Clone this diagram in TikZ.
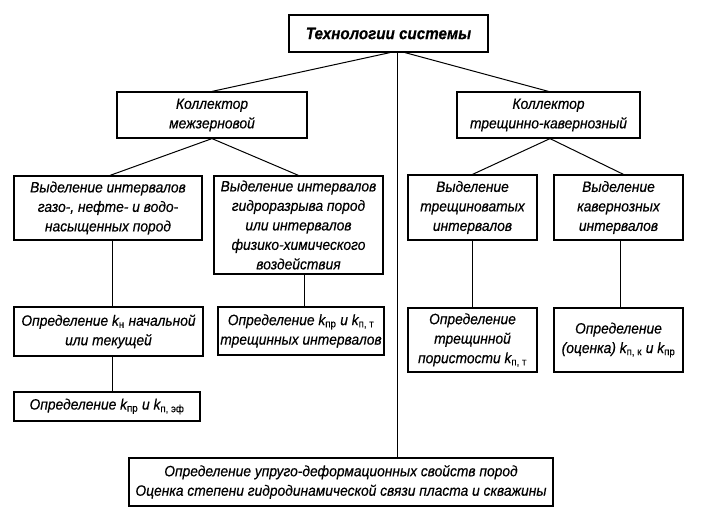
\documentclass[tikz,border=0pt]{standalone}
\usepackage{fontspec}
\setmainfont[FakeStretch=0.92,FakeBold=0.4]{Liberation Sans}
\newcommand{\kidx}[1]{\textit{k}\textsubscript{\upshape #1}}

\begin{document}
\begin{tikzpicture}[x=1pt,y=-1pt,
                    blok/.style={draw,line width=1.2pt,align=center,inner sep=0pt,
                                 font=\fontsize{15}{19.5}\selectfont\itshape},
                    svyaz/.style={line width=1pt}]
                    \useasboundingbox (0,0) rectangle (701,514);

                    \node[blok,minimum width=199pt,minimum height=37pt,
                          font=\fontsize{16.5}{19}\selectfont\bfseries\itshape] (tech) at (388.5,33.5) {Технологии системы};

                    \node[blok,minimum width=190pt,minimum height=46pt] (kmezh) at (212,115) {Коллектор\\межзерновой};
                    \node[blok,minimum width=183pt,minimum height=46pt] (ktrk) at (548.5,115) {Коллектор\\трещинно-кавернозный};

                    \node[blok,minimum width=188pt,minimum height=64pt] (vnas) at (108,208) {Выделение интервалов\\газо-, нефте- и водо-\\насыщенных пород};
                    \node[blok,minimum width=169pt,minimum height=98pt] (vgrp) at (298.5,225) {Выделение интервалов\\гидроразрыва пород\\или интервалов\\физико-химического\\воздействия};
                    \node[blok,minimum width=129pt,minimum height=65pt] (vtr) at (472.5,207.5) {Выделение\\трещиноватых\\интервалов};
                    \node[blok,minimum width=129pt,minimum height=65pt] (vkav) at (618.5,207.5) {Выделение\\кавернозных\\интервалов};

                    \node[blok,minimum width=189pt,minimum height=49pt] (okn) at (108.5,331.5) {Определение \kidx{н} начальной\\или текущей};
                    \node[blok,minimum width=166pt,minimum height=48pt] (okpt) at (301,331) {Определение \kidx{пр} и \kidx{п, т}\\трещинных интервалов};
                    \node[blok,minimum width=129pt,minimum height=64pt] (opor) at (472.5,340) {Определение\\трещинной\\пористости \kidx{п, т}};
                    \node[blok,minimum width=129pt,minimum height=64pt] (ooc) at (618.5,340) {Определение\\(оценка) \kidx{п, к} и \kidx{пр}};

                    \node[blok,minimum width=186pt,minimum height=29pt] (okef) at (107,406.5) {Определение \kidx{пр} и \kidx{п, эф}};

                    \node[blok,minimum width=424pt,minimum height=48pt] (oupr) at (341,482) {Определение упруго-деформационных свойств пород\\Оценка степени гидродинамической связи пласта и скважины};

                    \draw[svyaz] ([xshift=1.5pt]tech.south) -- (kmezh.north);
                    \draw[svyaz] ([xshift=16.5pt]tech.south) -- (ktrk.north);
                    \draw[svyaz] ([xshift=8.5pt]tech.south) -- ([xshift=8.5pt]tech.south |- oupr.north);

                    \draw[svyaz] (kmezh.south) -- ([xshift=2pt]vnas.north);
                    \draw[svyaz] (kmezh.south) -- (vgrp.north);
                    \draw[svyaz] ([xshift=1.5pt]ktrk.south) -- (vtr.north);
                    \draw[svyaz] ([xshift=1.5pt]ktrk.south) -- ([xshift=5pt]vkav.north);

                    \draw[svyaz] ([xshift=4pt]vnas.south) -- ([xshift=4pt]vnas.south |- okn.north);
                    \draw[svyaz] ([xshift=3pt]okpt.north |- vgrp.south) -- ([xshift=3pt]okpt.north);
                    \draw[svyaz] (vtr.south) -- (opor.north);
                    \draw[svyaz] ([xshift=1.5pt]vkav.south) -- ([xshift=1.5pt]ooc.north);
                    \draw[svyaz] ([xshift=3.5pt]okn.south) -- ([xshift=3.5pt]okn.south |- okef.north);

                \end{tikzpicture}
\end{document}
